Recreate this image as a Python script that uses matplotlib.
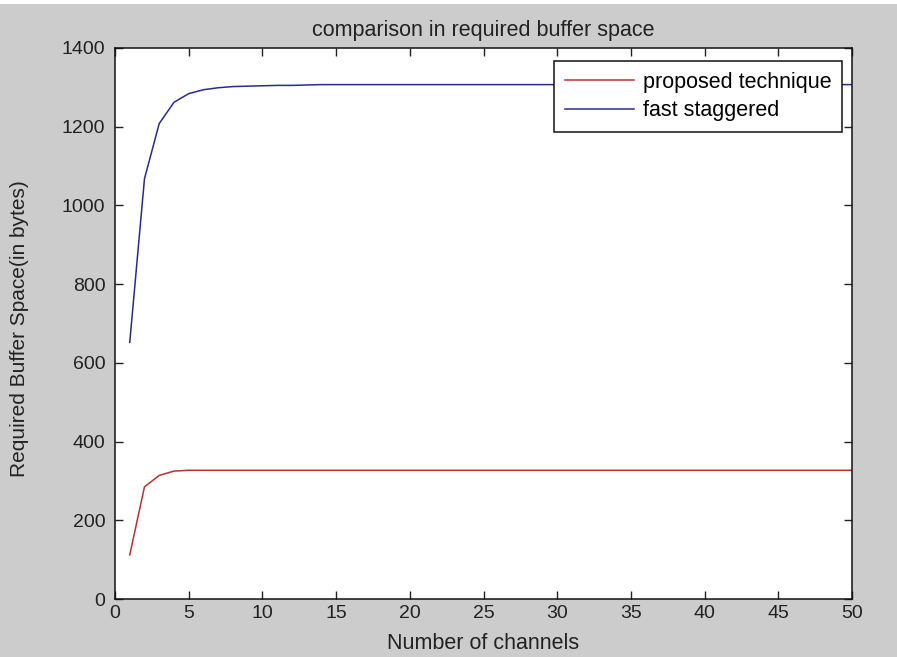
import matplotlib
matplotlib.use("Agg")
import matplotlib.pyplot as plt
from matplotlib.patches import Rectangle

channels = list(range(1, 51))
proposed = [112, 285, 314, 325] + [327] * 46
fast_staggered = [652, 1068, 1208, 1262, 1284, 1294, 1299, 1302, 1303, 1304,
                  1305, 1305, 1306] + [1307] * 37

x_ticks = [0, 5, 10, 15, 20, 25, 30, 35, 40, 45, 50]
y_ticks = [0, 200, 400, 600, 800, 1000, 1200, 1400]

title = "comparison in required buffer space"
xlabel = "Number of channels"
ylabel = "Required Buffer Space(in bytes)"
labels = ["proposed technique", "fast staggered"]

plt.rcParams['font.family'] = ['Liberation Sans', 'DejaVu Sans']

W, H = 897, 657
fig = plt.figure(figsize=(W / 100, H / 100), dpi=100, facecolor='#cccccc')
# thin white strip at the top (cut-off document page)
fig.patches.append(Rectangle((0, 1 - 4 / H), 1, 4 / H, transform=fig.transFigure,
                             facecolor='white', edgecolor='none', zorder=0))

ax = fig.add_axes([115 / W, 1 - 599 / H, (852 - 115) / W, (599 - 48) / H])
ax.set_facecolor('white')

ax.plot(channels, proposed, color='#b83030', lw=1.1, label=labels[0])
ax.plot(channels, fast_staggered, color='#2a2a8c', lw=1.1, label=labels[1])

ax.set_xlim(0, 50)
ax.set_ylim(0, 1400)
ax.set_xticks(x_ticks)
ax.set_yticks(y_ticks)
ax.tick_params(direction='in', top=True, right=True, length=6, width=1,
               labelsize=14, colors='#222222')
ax.tick_params(axis='x', pad=4)
ax.tick_params(axis='y', pad=7)
for s in ax.spines.values():
    s.set_linewidth(1.1)
    s.set_color('#111111')

ax.set_title(title, fontsize=15.5, color='#222222', pad=0, y=1.021)
ax.set_xlabel(xlabel, fontsize=15.5, color='#222222')
ax.xaxis.set_label_coords(0.5, -0.062)
ax.set_ylabel(ylabel, fontsize=15, color='#222222')
ax.yaxis.set_label_coords(-0.117, 0.49)

leg = ax.legend(loc='upper right', fontsize=15.5, frameon=True, fancybox=False,
                edgecolor='#111111', framealpha=1, borderpad=0.5,
                handlelength=3.2, handletextpad=0.4, labelspacing=0.35,
                borderaxespad=0, bbox_to_anchor=(0.9864, 0.9764))
leg.get_frame().set_linewidth(1.1)

fig.savefig('out.png', dpi=100, facecolor=fig.get_facecolor())
